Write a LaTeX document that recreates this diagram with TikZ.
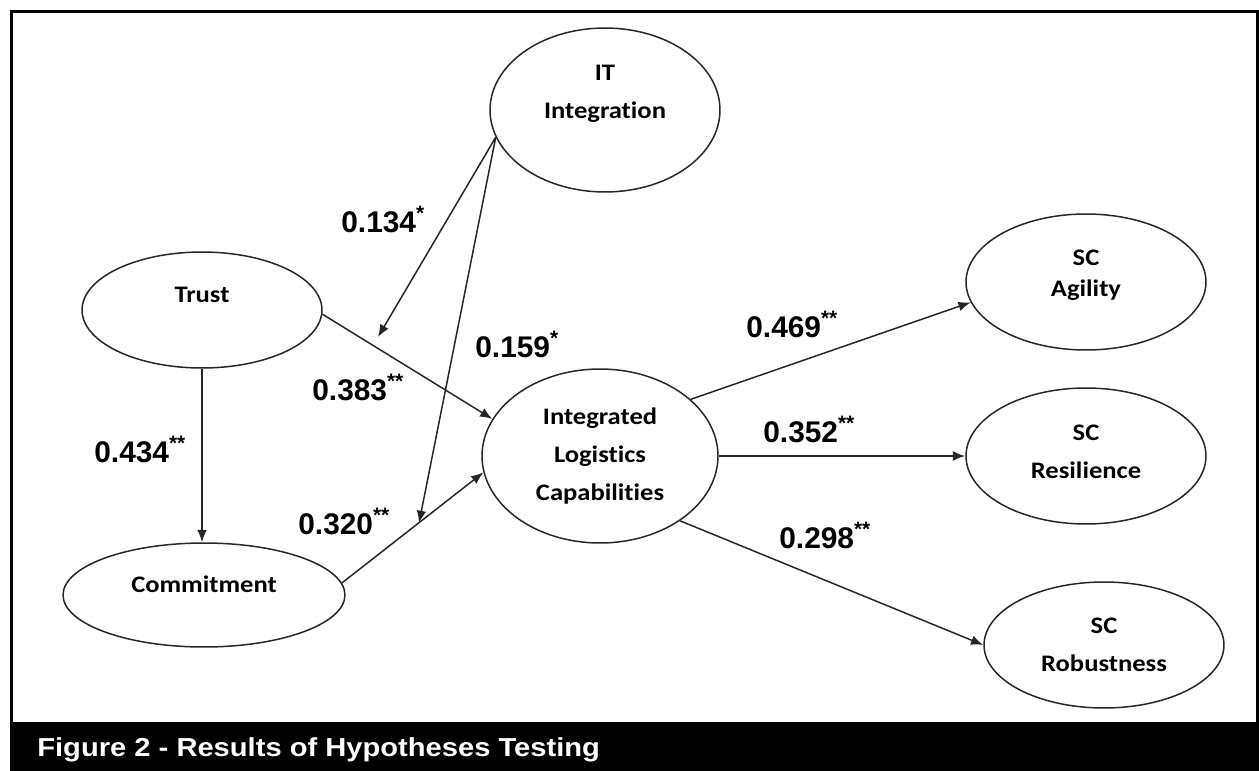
\documentclass[tikz,border=0pt]{standalone}
\usepackage{fontspec}
\setmainfont{Liberation Sans}
\newfontfamily\capfont{Liberation Sans}[FakeStretch=1.12]
\newfontfamily\cfont{Carlito}[FakeStretch=1.12, Ligatures=NoCommon]
\usetikzlibrary{arrows.meta,shapes.geometric}

\tikzset{
  construct/.style={ellipse, draw=black!85, line width=0.85pt, inner sep=0pt},
  ctext/.style={font=\cfont\bfseries\fontsize{13.5}{21.5}\selectfont, align=center},
  link/.style={draw=black!85, line width=0.85pt, -{Latex[length=7pt,width=5.5pt]}},
  coef/.style={font=\bfseries\fontsize{17}{17}\selectfont, anchor=base west, inner sep=0pt},
}
\newcommand{\sig}[1]{\textsuperscript{#1}}

\begin{document}
\begin{tikzpicture}[x=0.02cm, y=-0.02cm]
\useasboundingbox (0,0) rectangle (1259,771);

% frame and caption bar
\draw[line width=1.7pt] (11.5,722) -- (11.5,11.5) -- (1257.5,11.5) -- (1257.5,722);
\fill (10,722) rectangle (1259,771);
\node[anchor=base west, inner sep=0pt, text=white, font=\capfont\bfseries\fontsize{14.8}{14.8}\selectfont] (caption) at (37,756) {Figure 2 - Results of Hypotheses Testing};

% constructs
\node[construct, minimum width=4.6cm, minimum height=3.28cm, label={[ctext, yshift=0.32cm]center:{IT\\Integration}}] (it) at (605,110) {};
\node[construct, minimum width=4.8cm, minimum height=2.32cm, label={[ctext, yshift=0.31cm]center:Trust}] (trust) at (202,310) {};
\node[construct, minimum width=5.64cm, minimum height=2.08cm, label={[ctext, yshift=0.21cm]center:Commitment}] (commit) at (204,595) {};
\node[construct, minimum width=4.72cm, minimum height=3.48cm, label={[ctext]center:{Integrated\\Logistics\\Capabilities}}] (ilc) at (600,456) {};
\node[construct, minimum width=4.8cm, minimum height=2.72cm, label={[ctext, yshift=0.14cm]center:{SC\\[-4pt]Agility}}] (agil) at (1086,282) {};
\node[construct, minimum width=4.8cm, minimum height=2.72cm, label={[ctext, yshift=0.08cm]center:{SC\\Resilience}}] (resil) at (1086,456) {};
\node[construct, minimum width=4.8cm, minimum height=2.52cm, label={[ctext]center:{SC\\Robustness}}] (robust) at (1104,645) {};

% ends of the moderating arrows
\coordinate (modtrust) at (378,337);
\coordinate (modcommit) at (419,523);

% paths
\draw[link] (trust.south) -- (trust.south |- commit.north);
\draw[link] (trust.358) -- (ilc.161);
\draw[link] (commit.5) -- (ilc.188);
\draw[link] (it.194) -- (modtrust);
\draw[link] (it.194) -- (modcommit);
\draw[link] (ilc.32) -- (agil.190);
\draw[link] (ilc.east) -- (resil.west);
\draw[link] (ilc.321) -- (robust.west);

% coefficients
\node[coef] (c134) at (341,232) {0.134\sig{*}};
\node[coef] (c159) at (475,357) {0.159\sig{*}};
\node[coef] (c383) at (312,400) {0.383\sig{**}};
\node[coef] (c434) at (94,462) {0.434\sig{**}};
\node[coef] (c320) at (298,534) {0.320\sig{**}};
\node[coef] (c469) at (746,337) {0.469\sig{**}};
\node[coef] (c352) at (763,442) {0.352\sig{**}};
\node[coef] (c298) at (779,548) {0.298\sig{**}};
\end{tikzpicture}
\end{document}
